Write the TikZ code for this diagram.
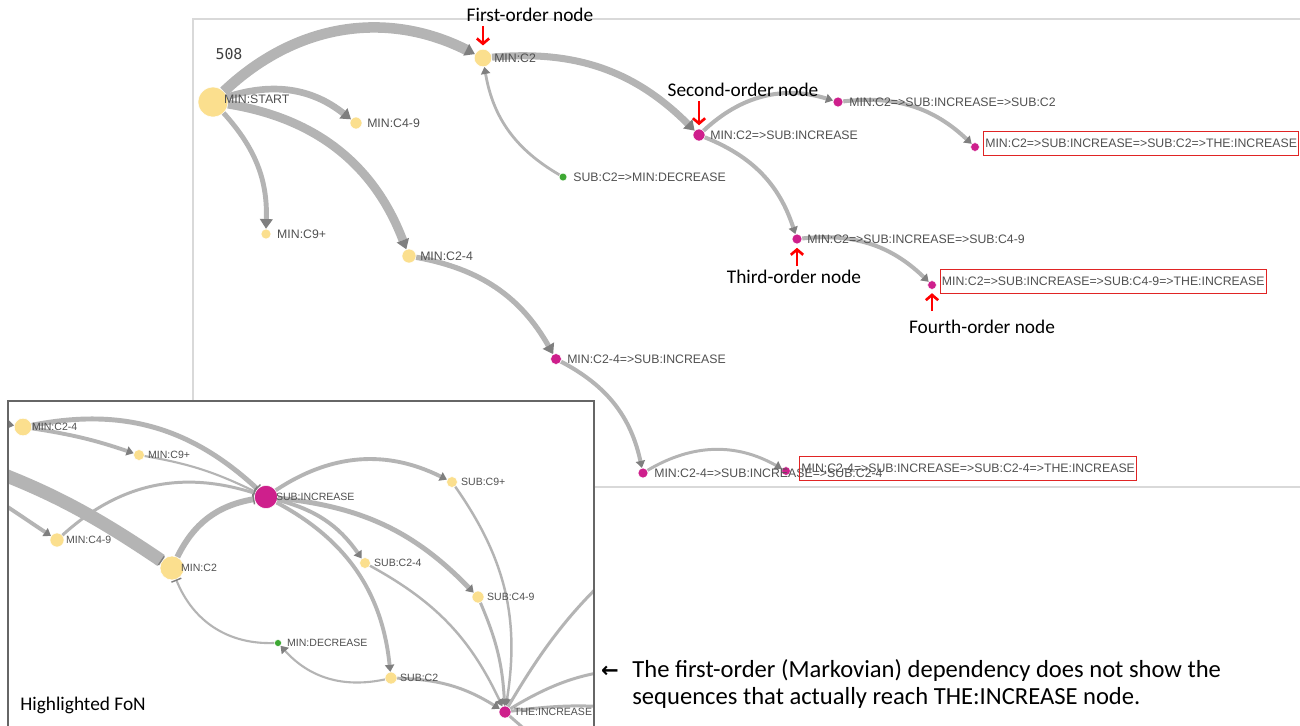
\documentclass[tikz,border=0pt]{standalone}
\usepackage{fontspec}
\setmainfont{Carlito}
\newfontfamily\labfont{Liberation Sans}
\newfontfamily\numfont{DejaVu Sans Mono}
\newfontfamily\symfont{DejaVu Sans}
\usetikzlibrary{positioning, arrows.meta}

\definecolor{fonyel}{HTML}{FBDF8E}
\definecolor{fonmag}{HTML}{CE1F8C}
\definecolor{fongrn}{HTML}{3DA833}
\definecolor{linkgray}{HTML}{B4B4B4}
\definecolor{tipgray}{HTML}{7F7F7F}
\definecolor{labgray}{HTML}{505050}
\definecolor{framegray}{HTML}{D9D9D9}
\definecolor{boxred}{HTML}{E02424}

\tikzset{
  fon/.style={circle, inner sep=0pt, draw=white, line width=0.3pt, minimum size=#1},
  yel/.style={fon=#1, fill=fonyel},
  mag/.style={fon=#1, fill=fonmag},
  grn/.style={fon=#1, fill=fongrn},
  lab/.style={inner sep=0pt, text=labgray, font=\labfont\fontsize{7}{8}\selectfont},
  ilab/.style={lab, font=\labfont\fontsize{6}{7}\selectfont},
  redbox/.style={lab, draw=boxred, line width=0.7pt, inner xsep=1pt, minimum height=13.5pt},
  link/.style={draw=linkgray, line width=#1, -{Triangle[length=5.5pt, width=7.5pt, line width=0pt, color=tipgray]}},
  small link/.style={draw=linkgray, line width=#1, -{Triangle[length=4pt, width=5.5pt, line width=0pt, color=tipgray]}},
  bar link/.style={draw=linkgray, line width=#1, -{Bar[width=6pt, line width=0.8pt, color=tipgray]}},
  plain link/.style={draw=linkgray, line width=#1},
  anno/.style={inner sep=0pt, font=\fontsize{11}{13}\selectfont},
  ordarr/.style={draw=red, line width=1.5pt, -{Straight Barb[length=3pt, width=7pt]}, shorten >=2pt}
}

\begin{document}
\begin{tikzpicture}[x=0.02cm, y=-0.02cm]
\useasboundingbox (0,0) rectangle (1300,725);

% main view
\draw[framegray, line width=0.6pt] (193,19) rectangle (1320,487);
\node[lab, font=\numfont\fontsize{8.5}{10}\selectfont, text=black!75] (count) at (229,54) {508};

\node[yel=17pt] (START) at (213,102) {};
\node[yel=10pt] (C2) at (483,58) {};
\node[yel=6.8pt] (C49) at (356,123) {};
\node[yel=5.7pt] (C9) at (266,234) {};
\node[yel=8pt] (C24) at (409,256) {};
\node[grn=4.5pt] (DEC) at (563,177) {};

\node[mag=6.8pt] (C2I) at (699,135) {};
\node[mag=5.7pt] (C2IC2) at (838,102) {};
\node[mag=5pt] (C2IC2T) at (975,147) {};
\node[mag=5.7pt] (C2IC49) at (797,239) {};
\node[mag=5pt] (C2IC49T) at (932,285) {};
\node[mag=6.2pt] (C24I) at (556,359) {};
\node[mag=5.7pt] (C24IC24) at (643,473) {};
\node[mag=5pt] (C24IC24T) at (786,471) {};

\draw[link=6pt] (START) to[bend left=35] (C2);
\draw[link=3.8pt] (START) to[bend left=28] (C49);
\draw[link=2.8pt] (START) to[bend left=22] (C9);
\draw[link=5pt] (START) to[bend left=30] (C24);

\draw[link=4pt] (C2) to[bend left=25] (C2I);
\draw[small link=1.6pt] (DEC) to[bend left=25] (C2);

\draw[small link=2.3pt] (C2I) to[bend left=30] (C2IC2);
\draw[small link=2.3pt] (C2IC2) to[bend left=25] (C2IC2T);
\draw[small link=2.3pt] (C2I) to[bend left=25] (C2IC49);
\draw[small link=2.3pt] (C2IC49) to[bend left=25] (C2IC49T);

\draw[link=3pt] (C24) to[bend left=25] (C24I);
\draw[small link=2.3pt] (C24I) to[bend left=25] (C24IC24);
\draw[small link=1.7pt] (C24IC24) to[bend left=30] (C24IC24T);

\node[lab, right=6.2pt of START.center, yshift=1.5pt] (STARTl) {MIN:START};
\node[lab, right=6.2pt of C2.center] (C2l) {MIN:C2};
\node[lab, right=6.2pt of C49.center] (C49l) {MIN:C4-9};
\node[lab, right=6.2pt of C9.center] (C9l) {MIN:C9+};
\node[lab, right=6.2pt of C24.center] (C24l) {MIN:C2-4};
\node[lab, right=5.7pt of DEC.center] (DECl) {SUB:C2=>MIN:DECREASE};
\node[lab, right=6.2pt of C2I.center] (C2Il) {MIN:C2=>SUB:INCREASE};
\node[lab, right=6.2pt of C2IC2.center] (C2IC2l) {MIN:C2=>SUB:INCREASE=>SUB:C2};
\node[redbox, right=4.5pt of C2IC2T.center, yshift=2pt] (C2IC2Tl) {MIN:C2=>SUB:INCREASE=>SUB:C2=>THE:INCREASE};
\node[lab, right=5.7pt of C2IC49.center] (C2IC49l) {MIN:C2=>SUB:INCREASE=>SUB:C4-9};
\node[redbox, right=4.3pt of C2IC49T.center, yshift=2pt] (C2IC49Tl) {MIN:C2=>SUB:INCREASE=>SUB:C4-9=>THE:INCREASE};
\node[lab, right=6.2pt of C24I.center] (C24Il) {MIN:C2-4=>SUB:INCREASE};
\node[lab, right=6.2pt of C24IC24.center] (C24IC24l) {MIN:C2-4=>SUB:INCREASE=>SUB:C2-4};
\node[redbox, right=7.4pt of C24IC24T.center, yshift=1.5pt] (C24IC24Tl) {MIN:C2-4=>SUB:INCREASE=>SUB:C2-4=>THE:INCREASE};

% order marks
\node[anno] (ord1) at (530,15) {First-order node};
\node[anno] (ord2) at (743,90) {Second-order node};
\node[anno] (ord3) at (794,277) {Third-order node};
\node[anno] (ord4) at (982,327) {Fourth-order node};
\coordinate (ord1t) at (483,26);
\coordinate (ord2t) at (699,101);
\coordinate (ord3t) at (797,266);
\coordinate (ord4t) at (932,311);
\draw[ordarr] (ord1t) -- (C2);
\draw[ordarr] (ord2t) -- (C2I);
\draw[ordarr] (ord3t) -- (C2IC49);
\draw[ordarr] (ord4t) -- (C2IC49T);

% inset: highlighted FoN
\fill[white] (8,401) rectangle (594,740);
\begin{scope}
\clip (8,401) rectangle (594,740);
\node[yel=10pt] (iC24) at (23,427) {};
\node[yel=6.2pt] (iC9) at (139,455) {};
\node[mag=13.2pt] (iINC) at (266,497) {};
\node[yel=6.2pt] (iSC9) at (452,482) {};
\node[yel=8pt] (iC49) at (57,540) {};
\node[yel=13.6pt] (iC2) at (172,568) {};
\node[yel=6.2pt] (iSC24) at (365,563) {};
\node[yel=6.8pt] (iSC49) at (478,597) {};
\node[grn=4pt] (iDEC) at (278,643) {};
\node[yel=6.8pt] (iSC2) at (391,678) {};
\node[mag=6.8pt] (iTHE) at (505,712) {};
\coordinate (iin1) at (-40,416);
\coordinate (iin2) at (-60,452);
\coordinate (iin3) at (-40,475);
\coordinate (iout1) at (650,540);
\coordinate (iout2) at (650,668);
\coordinate (iout3) at (650,712);
\coordinate (iout4) at (560,760);

\draw[small link=1.7pt] (iin1) -- (iC24);
\draw[small link=2.2pt] (iC24) to[bend left=5] (iC9);
\draw[bar link=2.8pt] (iC24) to[bend left=27] (iINC);
\draw[bar link=1.2pt] (iC9) to[bend left=8] (iINC);

\draw[bar link=7.5pt] (iin2) to[bend left=8] (iC2);
\draw[small link=2.2pt] (iin3) -- (iC49);
\draw[bar link=1.7pt] (iC49) to[bend left=30] (iINC);
\draw[bar link=3.4pt] (iC2) to[bend left=27] (iINC);

\draw[small link=2.2pt] (iINC) to[bend left=30] (iSC9);
\draw[small link=2.2pt] (iINC) to[bend left=20] (iSC24);
\draw[small link=2.8pt] (iINC) to[bend left=20] (iSC49);
\draw[small link=2.2pt] (iINC) to[bend left=28] (iSC2);

\draw[small link=1.4pt] (iSC9) to[bend left=22] (iTHE);
\draw[small link=1.4pt] (iSC24) to[bend left=18] (iTHE);
\draw[small link=1.7pt] (iSC49) to[bend left=10] (iTHE);
\draw[small link=1.7pt] (iSC2) to[bend left=15] (iTHE);

\draw[small link=1.2pt] (iSC2) to[bend left=30] (iDEC);
\draw[bar link=1.2pt] (iDEC) to[bend left=35] (iC2);

\draw[plain link=1.7pt] (iTHE) to[bend left=10] (iout1);
\draw[plain link=1.7pt] (iTHE) to[bend left=15] (iout2);
\draw[plain link=1.7pt] (iTHE) to[bend left=8] (iout3);
\draw[plain link=1.7pt] (iTHE) -- (iout4);

\node[ilab, right=5pt of iC24.center] (iC24l) {MIN:C2-4};
\node[ilab, right=5pt of iC9.center] (iC9l) {MIN:C9+};
\node[ilab, right=5.5pt of iINC.center] (iINCl) {SUB:INCREASE};
\node[ilab, right=5pt of iSC9.center] (iSC9l) {SUB:C9+};
\node[ilab, right=5pt of iC49.center] (iC49l) {MIN:C4-9};
\node[ilab, right=5pt of iC2.center] (iC2l) {MIN:C2};
\node[ilab, right=5pt of iSC24.center] (iSC24l) {SUB:C2-4};
\node[ilab, right=5pt of iSC49.center] (iSC49l) {SUB:C4-9};
\node[ilab, right=5pt of iDEC.center] (iDECl) {MIN:DECREASE};
\node[ilab, right=5pt of iSC2.center] (iSC2l) {SUB:C2};
\node[ilab, right=5pt of iTHE.center] (iTHEl) {THE:INCREASE};
\node[anno, anchor=west] (fon) at (20,705) {Highlighted FoN};
\end{scope}
\draw[black!60, line width=0.8pt] (8,740) -- (8,401) -- (594,401) -- (594,740);

% remark
\node[anno, font=\symfont\bfseries\fontsize{12}{14}\selectfont] (back) at (610,672) {←};
\node[anno, font=\fontsize{14}{15.3}\selectfont, align=left, anchor=west] (why) at (632,684)
  {The first-order (Markovian) dependency does not show the\\sequences that actually reach THE:INCREASE node.};
\end{tikzpicture}
\end{document}
